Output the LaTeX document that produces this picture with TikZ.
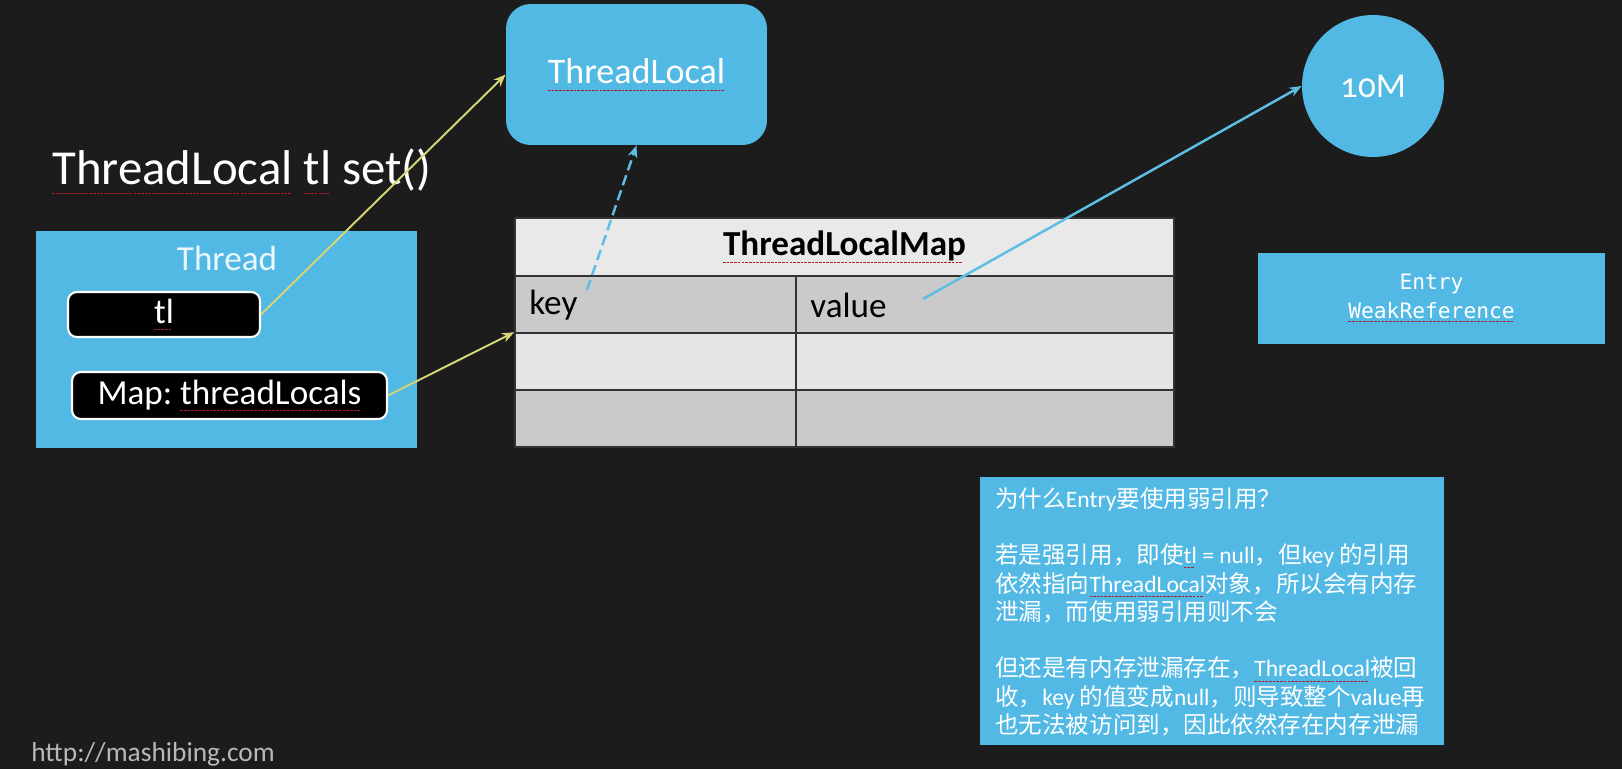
\documentclass[tikz,border=0pt]{standalone}
\usepackage{fontspec}
\setmainfont{Carlito}
\newfontfamily\cjk{Noto Sans CJK SC}
\newfontfamily\mono{DejaVu Sans Mono}
\newfontfamily\oldnum{Carlito}[Numbers=OldStyle]
\usepackage{tikz}
\usetikzlibrary{arrows.meta,positioning}
\definecolor{bg}{RGB}{28,28,28}
\definecolor{c0}{RGB}{82,185,228}
\definecolor{c1}{RGB}{214,214,118}
\definecolor{c2}{RGB}{92,190,226}
\definecolor{hd}{RGB}{233,233,233}
\definecolor{r0}{RGB}{202,202,202}
\definecolor{r1}{RGB}{229,229,229}
\definecolor{sq}{RGB}{170,30,45}
\frenchspacing
\newsavebox\spbox
\newcommand\spell[1]{\sbox\spbox{#1}\leavevmode\rlap{\textcolor{sq}{\hbox to\wd\spbox{%
  \leaders\hbox{\rule[-0.2em]{1.5pt}{0.6pt}\hskip0.6pt}\hfill}}}\usebox\spbox}
\newcommand\fsz[2]{\fontsize{#1}{#2}\selectfont}
\newcommand\en[1]{{\rmfamily #1}}
\tikzset{%
  panel/.style={fill=c0,draw=none,inner sep=0pt},
  slot/.style={fill=black,draw=white,line width=1.2pt,rounded corners=5pt,inner sep=0pt,
    text=white,font=\fsz{20}{24}},
  cell/.style={fill=#1,draw=black!80,line width=0.9pt,inner sep=0pt,minimum height=1.14cm},
  cell/.default=r0,
  lbl/.style={inner sep=0pt,font=\fsz{20}{24}},
  ref/.style={-{Stealth[length=7pt,width=5.5pt]},line width=#1},
  ref/.default=1.1pt
}
\begin{document}
\begin{tikzpicture}[x=0.02cm,y=-0.02cm]
  \useasboundingbox (0,0) rectangle (1622,769);
  \fill[bg] (0,0) rectangle (1622,769);
  \clip (0,0) rectangle (1622,769);
  \node[lbl,anchor=base west,text=white,font=\fsz{27.8}{32}] (title) at (52,184)
    {\spell{ThreadLocal} \spell{tl} set()};
  %% thread
  \node[panel,minimum width=7.62cm,minimum height=4.34cm] (thread) at (226.5,339.5) {};
  \node[lbl,text=white!88!c0] (tname) at (227,258) {Thread};
  \node[slot,minimum width=3.84cm,minimum height=0.9cm] (tl) at (164,314.5) {\spell{tl}};
  \node[slot,minimum width=6.3cm,minimum height=0.94cm] (map) at (229.5,395.5)
    {Map: \spell{threadLocals}};
  %% threadlocal object
  \node[panel,rounded corners=14pt,minimum width=5.22cm,minimum height=2.82cm,
    text=white,font=\fsz{20.5}{24}] (tlocal) at (636.5,74.5) {\spell{ThreadLocal}};
  %% map table
  \node[cell=hd,minimum width=13.18cm,minimum height=1.16cm,font=\bfseries\fsz{20}{24}]
    (head) at (844.5,247) {\spell{ThreadLocalMap}};
  \foreach \r/\y/\c in {1/304.5/r0,2/361.5/r1,3/418.5/r0}{
    \node[cell=\c,minimum width=5.62cm] (k\r) at (655.5,\y) {};
    \node[cell=\c,minimum width=7.56cm] (v\r) at (985,\y) {};
  }
  \node[lbl,anchor=west] (key) at (529,305) {key};
  \node[lbl,anchor=west] (val) at (810,305) {value};
  %% value object
  \node[circle,fill=c0,minimum size=2.84cm,inner sep=0pt,text=white,
    font=\oldnum\fsz{20}{24}] (big) at (1373,86) {10M};
  \node[panel,minimum width=6.94cm,minimum height=1.82cm,text=white,align=center,
    font=\mono\fsz{12.1}{16.4}] (entry) at (1431.5,298) {Entry\\\spell{WeakReference}};
  %% note
  \node[panel,minimum width=9.28cm,minimum height=5.36cm] (note) at (1212,611) {};
  \node[anchor=north west,inner sep=0pt,align=left,text=white,font=\cjk\fsz{13.4}{16.1}]
    (why) at (995,487) {%
    为什么\en{Entry}要使用弱引用？\\[16.1pt]
    若是强引用，即使\en{\spell{tl} = null}，但\en{key} 的引用\\
    依然指向\en{\spell{ThreadLocal}}对象，所以会有内存\\
    泄漏，而使用弱引用则不会\\[16.1pt]
    但还是有内存泄漏存在，\en{\spell{ThreadLocal}}被回\\
    收，\en{key} 的值变成\en{null}，则导致整个\en{value}再\\
    也无法被访问到，因此依然存在内存泄漏};
  \node[lbl,anchor=base west,text=white!72!black,font=\fsz{15.6}{18}] (url) at (31,761)
    {http://mashibing.com};
  %% references
  \coordinate (keytip) at (587,290);
  \coordinate (valtip) at (923,299);
  \draw[ref,c1] (tl.east) -- (tlocal.west);
  \draw[ref,c1] (map.east) -- (k2.north west);
  \draw[ref=1.4pt,c2,dash pattern=on 6pt off 3pt] (keytip) -- (tlocal.south);
  \draw[ref=1.4pt,c2] (valtip) -- (big.west);
\end{tikzpicture}
\end{document}
